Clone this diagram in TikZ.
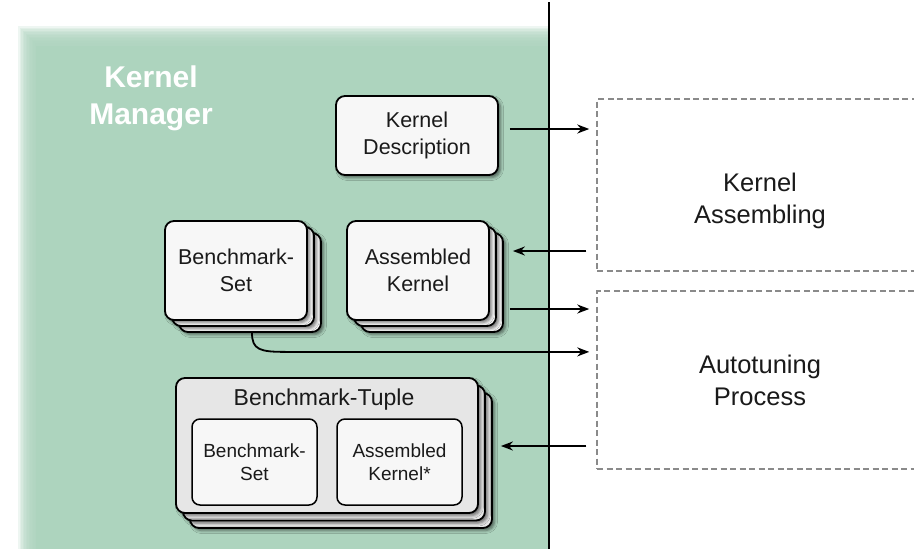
\documentclass[tikz,border=0pt]{standalone}
\usepackage{fontspec}
\setmainfont{Liberation Sans}
\usetikzlibrary{shadows.blur,calc,arrows.meta}
\definecolor{panel}{HTML}{ADD4BE}
\definecolor{boxfill}{HTML}{F7F7F7}
\definecolor{tuplefill}{HTML}{E6E6E6}
\definecolor{dashgray}{HTML}{8A8A8A}
\definecolor{ink}{HTML}{1A1A1A}
\tikzset{
 box/.style={draw=black, line width=1.8pt, rounded corners=9pt, fill=boxfill, align=center, text=ink, inner sep=0pt},
 shad/.style={blur shadow={shadow xshift=2.5pt, shadow yshift=-2.5pt, shadow blur radius=3pt, shadow opacity=55}},
 smallbox/.style={box, shad, minimum width=142pt, minimum height=99pt, font=\fontsize{21.5}{27}\selectfont},
 tuplebox/.style={box, shad, fill=tuplefill, minimum width=302pt, minimum height=135pt},
 innerbox/.style={box, line width=1.5pt, rounded corners=8pt, minimum width=125pt, minimum height=86pt, font=\fontsize{19}{23}\selectfont},
 proc/.style={draw=dashgray, line width=1.5pt, dash pattern=on 6pt off 3.5pt, align=center, text=ink, font=\fontsize{25.5}{32}\selectfont, inner sep=0pt},
 arr/.style={-{Stealth[length=12pt,width=9pt]}, line width=1.8pt, draw=black},
}
\begin{document}
\begin{tikzpicture}[x=1pt,y=-1pt]
\useasboundingbox (0,0) rectangle (914,549);
\fill[white] (0,0) rectangle (914,549);
% panel with soft top/left edge
\foreach \k in {0,...,11} {
  \fill[panel, opacity=0.2] (18+\k*1.5, 26+\k*1.5) rectangle (549,549);
}
\fill[panel] (36,46) rectangle (549,549);
\draw[line width=2pt, black] (549,2) -- (549,549);

\node[font=\bfseries\fontsize{30}{37}\selectfont, text=white, align=center] (KM) at (151,98) {Kernel\\Manager};

\node[box, shad, minimum width=162pt, minimum height=79pt, font=\fontsize{21.5}{27}\selectfont] (KD) at (417,135.5) {Kernel\\Description};

% Benchmark-Set stack
\node[smallbox] (BSb2) at (250,282.5) {};
\node[smallbox] (BSb1) at (243,276.5) {};
\node[smallbox] (BS) at (236,270.5) {Benchmark-\\Set};
% Assembled Kernel stack
\node[smallbox] (AKb2) at (432,282.5) {};
\node[smallbox] (AKb1) at (425,276.5) {};
\node[smallbox] (AK) at (418,270.5) {Assembled\\Kernel};

% Benchmark-Tuple stack
\node[tuplebox] (BTb2) at (341,460.5) {};
\node[tuplebox] (BTb1) at (334,453) {};
\node[tuplebox] (BT) at (327,445.5) {};
\node[font=\fontsize{23}{27}\selectfont, text=ink] (BTt) at (324,400) {Benchmark-Tuple};
\node[innerbox] (BS2) at (254.5,462) {Benchmark-\\Set};
\node[innerbox] (AK2) at (399.5,462) {Assembled\\Kernel*};

\node[proc, minimum width=326pt, minimum height=172pt] (KA) at (760,185) {};
\node[align=center, text=ink, font=\fontsize{25.5}{32}\selectfont] (KAt) at (760,200.5) {Kernel\\Assembling};
\node[proc, minimum width=326pt, minimum height=178pt] (AP) at (760,380) {Autotuning\\Process};

% connectors
\draw[arr] ($(KD.east)+(11,-6.5)$) -- ($(KD.east -| KA.west)+(-7,-6.5)$);
\draw[arr] ($(AK.east -| KA.west)+(-10,-19.5)$) -- ($(AKb2.east)+(9,-31.5)$);
\draw[arr] ($(AK.east)+(20,38.5)$) -- ($(AK.east -| AP.west)+(-7,38.5)$);
\coordinate (c0) at ($(BSb2.south)+(2,0)$);
\coordinate (c1) at ($(BS.south)+(50,31)$);
\coordinate (c2) at ($(BS.south -| AP.west)+(-7,31)$);
\draw[arr] (c0) .. controls ($(c0)+(0,17)$) and ($(c1)+(-26,0)$) .. (c1) -- (c2);
\draw[arr] ($(BT.east -| AP.west)+(-10,0.5)$) -- ($(BTb2.east)+(8,-14.5)$);
\end{tikzpicture}
\end{document}
